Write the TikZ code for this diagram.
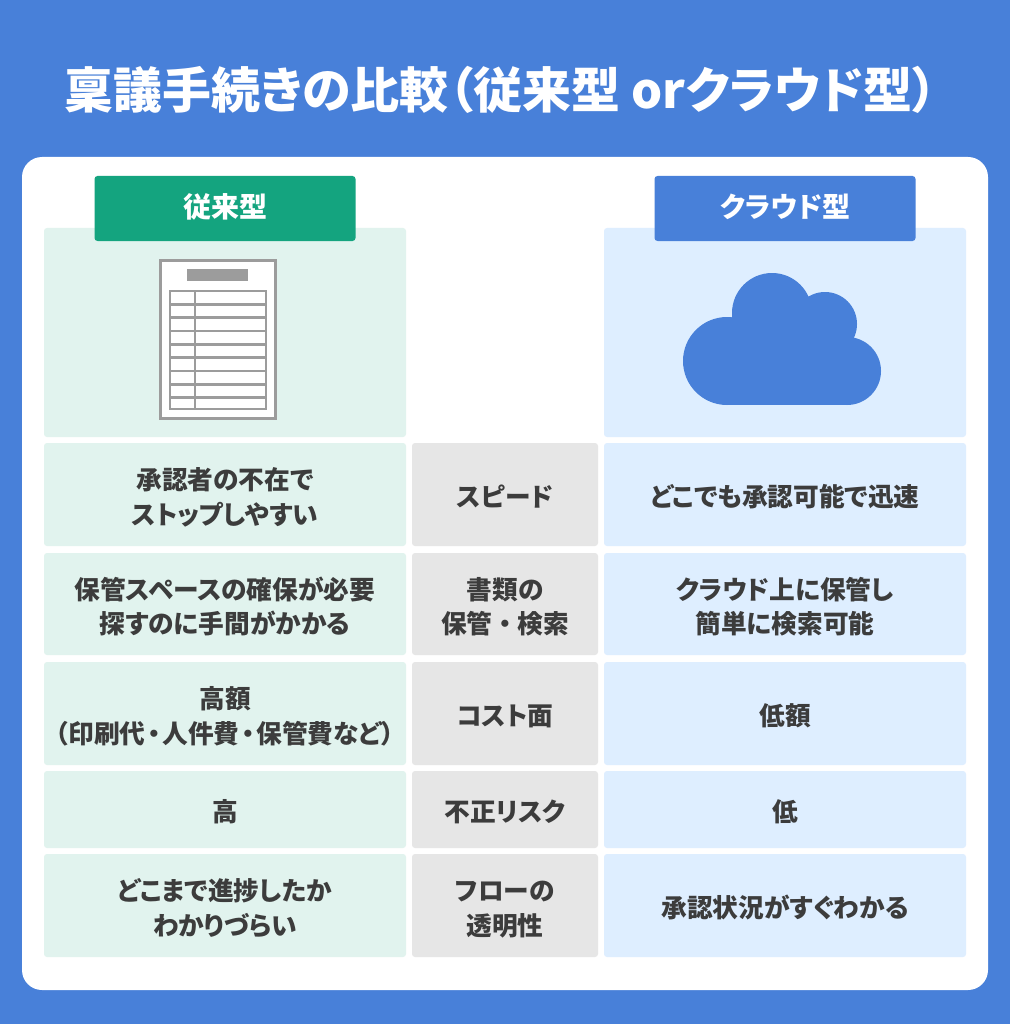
\documentclass[tikz,border=0pt]{standalone}
\usepackage{fontspec}
\setmainfont{Noto Sans CJK JP}[RawFeature={+palt}]
\definecolor{bluebg}{HTML}{4880D9}
\definecolor{greenhead}{HTML}{14A47F}
\definecolor{greencell}{HTML}{E1F3EE}
\definecolor{bluecell}{HTML}{DEEEFF}
\definecolor{graycell}{HTML}{E6E6E6}
\definecolor{inktext}{HTML}{3C3C3C}
\definecolor{docgray}{HTML}{9C9C9C}
\newcommand{\cellfont}{\fontsize{25.7}{34.5}\selectfont\bfseries}
\newcommand{\toppad}{\rule{0pt}{28pt}}
\tikzset{
 x=1pt,y=-1pt,
 cellbase/.style={rounded corners=3pt,inner sep=0pt,align=center,text=inktext,font=\cellfont,minimum width=#1,
   execute at begin node={\rule{0pt}{27pt}},execute at end node={\rule[-3pt]{0pt}{0pt}}},
 leftcell/.style={cellbase=362pt,fill=greencell},
 midcell/.style={cellbase=186pt,fill=graycell},
 rightcell/.style={cellbase=362pt,fill=bluecell},
 panelbox/.style={rounded corners=3pt,inner sep=0pt,minimum width=362pt,minimum height=209pt},
 headbox/.style={rounded corners=3pt,inner sep=0pt,minimum width=261pt,minimum height=65pt,text=white,font=\fontsize{28}{34}\selectfont\bfseries,text depth=5pt},
 docline/.style={draw=docgray,line width=2.6pt},
}
\begin{document}
\begin{tikzpicture}
\useasboundingbox (0,0) rectangle (1010,1024);
\fill[bluebg] (0,0) rectangle (1010,1024);
\node[text=white,font=\fontsize{49}{58}\selectfont\bfseries,anchor=west,inner sep=0pt] (title) at (64,90) {稟議手続きの比較（従来型 orクラウド型）};
\fill[white,rounded corners=20pt] (22,157) rectangle (988,990);
% top panels
\node[panelbox,fill=greencell] (panelL) at (225,332.5) {};
\node[panelbox,fill=bluecell] (panelR) at (785,332.5) {};
\node[headbox,fill=greenhead] (headL) at (225,208.5) {従来型};
\node[headbox,fill=bluebg] (headR) at (785,208.5) {クラウド型};
% document icon
\fill[white,draw=docgray,line width=3pt] (160.5,260.5) rectangle (275.5,418.5);
\fill[docgray] (187,269) rectangle (248,281);
\draw[docline] (170,291) rectangle (266,409);
\foreach \r in {1,...,8} \draw[docline] (170,{291+\r*13.33}) -- (266,{291+\r*13.33});
\draw[docline] (195,291) -- (195,409);
% cloud icon
\fill[bluebg] (727,361) circle[radius=44] (772,313) circle[radius=40] (825,324) circle[radius=32] (847,371) circle[radius=34];
\fill[bluebg] (727,340) rectangle (847,405);
% rows
\node[leftcell,minimum height=103pt] (a1) at (225,494.5) {\toppad 承認者の不在で\\ストップしやすい};
\node[midcell,minimum height=103pt] (b1) at (505,494.5) {スピード};
\node[rightcell,minimum height=103pt] (c1) at (785,494.5) {どこでも承認可能で迅速};
\node[leftcell,minimum height=102pt] (a2) at (225,604) {\toppad 保管スペースの確保が必要\\探すのに手間がかかる};
\node[midcell,minimum height=102pt] (b2) at (505,604) {\toppad 書類の\\保管\hspace{6pt}・\hspace{6pt}検索};
\node[rightcell,minimum height=102pt] (c2) at (785,604) {\toppad クラウド上に保管し\\簡単に検索可能};
\node[leftcell,minimum height=103pt] (a3) at (225,713.5) {\toppad 高額\\（印刷代\hspace{2pt}・\hspace{2pt}人件費\hspace{2pt}・\hspace{2pt}保管費など）};
\node[midcell,minimum height=103pt] (b3) at (505,713.5) {コスト面};
\node[rightcell,minimum height=103pt] (c3) at (785,713.5) {低額};
\node[leftcell,minimum height=77pt] (a4) at (225,809.5) {高};
\node[midcell,minimum height=77pt] (b4) at (505,809.5) {不正リスク};
\node[rightcell,minimum height=77pt] (c4) at (785,809.5) {低};
\node[leftcell,minimum height=103pt] (a5) at (225,905.5) {\toppad どこまで進捗したか\\わかりづらい};
\node[midcell,minimum height=103pt] (b5) at (505,905.5) {\toppad フローの\\透明性};
\node[rightcell,minimum height=103pt] (c5) at (785,905.5) {承認状況がすぐわかる};
\end{tikzpicture}
\end{document}
